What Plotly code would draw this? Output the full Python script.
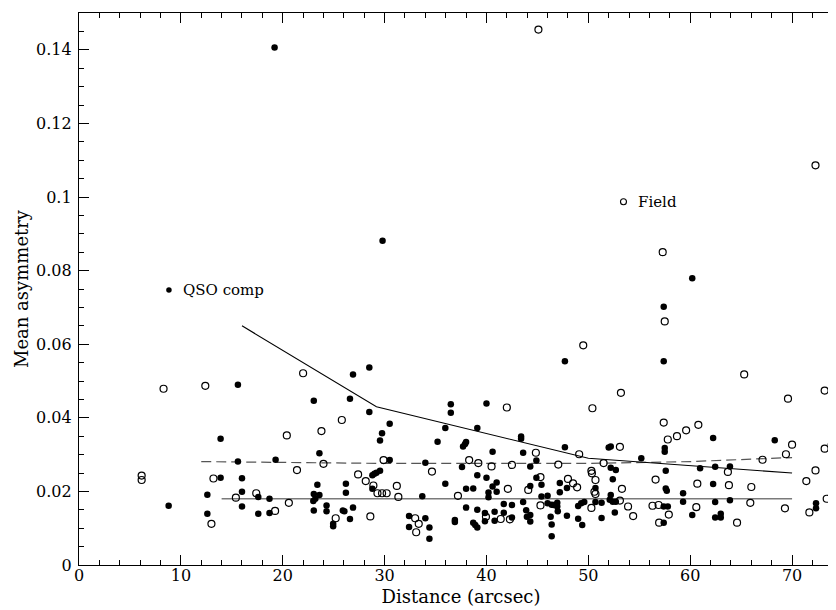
import plotly.graph_objects as go

# QSO companions (filled circles): distance (arcsec), mean asymmetry
qso_x = [19.2, 29.8, 60.2, 57.4, 47.7, 57.4, 26.9, 28.5, 15.6, 8.8,
         13.9, 15.6, 19.3, 13.9, 16.0, 12.6, 16.0, 17.6, 18.7, 12.6,
         16.0, 17.6, 18.7, 23.05, 26.6, 23.6, 23.4, 23.05, 23.6, 23.2,
         23.0, 26.2, 26.2, 23.05, 24.3, 24.3, 24.95, 24.95, 25.9, 26.05,
         26.6, 26.9, 28.5, 30.5, 29.75, 29.55, 36.5, 36.5, 40.0, 35.96,
         39.1, 35.2, 38.0, 37.9, 37.7, 40.6, 30.5, 34.0, 37.6, 28.8,
         29.2, 29.55, 29.0, 28.8, 33.7, 35.96, 38.0, 38.7, 39.1, 40.0,
         41.0, 40.6, 40.2, 41.0, 40.2, 32.4, 34.0, 32.4, 34.4, 34.4,
         36.9, 36.9, 38.0, 38.7, 38.9, 39.1, 39.1, 39.85, 39.85, 40.8,
         40.8, 41.7, 42.5, 41.7, 42.5, 43.4, 43.4, 43.6, 47.7, 52.0,
         52.2, 57.5, 57.5, 55.2, 44.9, 44.3, 57.6, 52.2, 52.7, 44.9,
         45.4, 44.3, 47.2, 47.9, 47.2, 50.7, 52.4, 52.2, 52.1, 52.4,
         52.7, 57.6, 57.7, 45.4, 46.0, 43.6, 46.0, 46.4, 46.95, 46.95,
         46.6, 49.0, 49.3, 49.6, 51.3, 50.7, 57.4, 57.8, 57.4, 43.9,
         43.97, 44.3, 44.3, 46.3, 46.4, 46.4, 47.0, 47.9, 49.0, 49.4,
         51.3, 52.6, 62.25, 68.3, 60.97, 62.45, 63.9, 62.25, 59.3, 59.3,
         62.45, 63.9, 60.2, 62.45, 63.0, 63.0, 73.8, 73.85, 73.85, 74.2,
         72.35, 72.35, 73.85, 74.2]
qso_y = [0.1406, 0.0881, 0.0779, 0.0702, 0.0554, 0.0554, 0.0518, 0.0537, 0.0490, 0.0161,
         0.0343, 0.0281, 0.0286, 0.0237, 0.0236, 0.0191, 0.0199, 0.0185, 0.0180, 0.0139,
         0.0159, 0.0139, 0.0141, 0.0446, 0.0452, 0.0304, 0.0218, 0.0193, 0.0190, 0.0180,
         0.0174, 0.0221, 0.0196, 0.0148, 0.0162, 0.0146, 0.0112, 0.0105, 0.0148, 0.0146,
         0.0125, 0.0156, 0.0416, 0.0384, 0.0358, 0.0338, 0.0437, 0.0414, 0.0439, 0.0372,
         0.0372, 0.0335, 0.0334, 0.0329, 0.0322, 0.0308, 0.0285, 0.0278, 0.0266, 0.0244,
         0.0251, 0.0256, 0.0248, 0.0207, 0.0187, 0.0221, 0.0207, 0.0208, 0.0244, 0.0237,
         0.0224, 0.0213, 0.0197, 0.0199, 0.0184, 0.0133, 0.0127, 0.0103, 0.0102, 0.0071,
         0.0122, 0.0117, 0.0156, 0.0115, 0.0109, 0.0102, 0.0150, 0.0141, 0.0119, 0.0145,
         0.0120, 0.0166, 0.0163, 0.0142, 0.0129, 0.0349, 0.0343, 0.0305, 0.0320, 0.0319,
         0.0322, 0.0318, 0.0308, 0.0290, 0.0284, 0.0268, 0.0256, 0.0264, 0.0258, 0.0237,
         0.0218, 0.0215, 0.0223, 0.0209, 0.0198, 0.0209, 0.0233, 0.0190, 0.0177, 0.0172,
         0.0172, 0.0208, 0.0202, 0.0186, 0.0188, 0.0171, 0.0168, 0.0164, 0.0169, 0.0159,
         0.0163, 0.0160, 0.0168, 0.0171, 0.0169, 0.0171, 0.0159, 0.0159, 0.0115, 0.0149,
         0.0131, 0.0136, 0.0118, 0.0131, 0.0110, 0.0078, 0.0146, 0.0134, 0.0126, 0.0109,
         0.0128, 0.0143, 0.0345, 0.0339, 0.0263, 0.0267, 0.0268, 0.0220, 0.0195, 0.0172,
         0.0171, 0.0176, 0.0136, 0.0129, 0.0129, 0.0139, 0.0327, 0.0231, 0.0207, 0.0188,
         0.0168, 0.0154, 0.0162, 0.0131]

# Field galaxies (open circles)
field_x = [45.1, 72.3, 57.3, 57.5, 49.5, 65.3, 22.0, 8.3, 12.4, 6.15,
           6.15, 20.4, 21.4, 13.2, 17.4, 15.4, 19.25, 20.6, 13.0, 25.8,
           23.8, 24.0, 27.4, 25.2, 42.0, 29.9, 38.3, 39.2, 40.5, 42.5,
           34.65, 28.15, 28.9, 29.3, 29.75, 30.2, 31.2, 31.35, 37.2, 42.1,
           28.6, 33.0, 33.35, 33.1, 39.95, 41.4, 42.3, 53.2, 50.4, 57.4,
           57.8, 58.7, 44.85, 49.1, 53.1, 51.5, 47.05, 50.3, 50.35, 45.3,
           44.1, 48.0, 48.5, 48.9, 50.7, 50.6, 50.7, 53.3, 53.1, 56.6,
           45.3, 50.3, 53.9, 54.4, 56.3, 56.9, 57.9, 56.95, 69.6, 73.2,
           59.6, 60.8, 70.0, 69.4, 67.1, 63.7, 60.7, 63.8, 66.0, 60.6,
           65.9, 69.3, 64.6, 72.3, 71.4, 73.2, 73.4, 71.7]
field_y = [0.1455, 0.1086, 0.0850, 0.0662, 0.0597, 0.0518, 0.0521, 0.0479, 0.0487, 0.0243,
           0.0231, 0.0352, 0.0258, 0.0235, 0.0195, 0.0183, 0.0147, 0.0169, 0.0112, 0.0394,
           0.0364, 0.0275, 0.0246, 0.0127, 0.0428, 0.0285, 0.0285, 0.0277, 0.0268, 0.0272,
           0.0254, 0.0228, 0.0216, 0.0195, 0.0195, 0.0195, 0.0215, 0.0185, 0.0188, 0.0207,
           0.0132, 0.0127, 0.0112, 0.0089, 0.0131, 0.0125, 0.0124, 0.0468, 0.0426, 0.0387,
           0.0341, 0.0350, 0.0305, 0.0301, 0.0321, 0.0277, 0.0273, 0.0256, 0.0249, 0.0239,
           0.0204, 0.0234, 0.0222, 0.0211, 0.0231, 0.0199, 0.0193, 0.0207, 0.0175, 0.0232,
           0.0162, 0.0155, 0.0159, 0.0133, 0.0161, 0.0163, 0.0137, 0.0115, 0.0452, 0.0474,
           0.0366, 0.0381, 0.0327, 0.0301, 0.0286, 0.0253, 0.0221, 0.0217, 0.0212, 0.0157,
           0.0169, 0.0154, 0.0115, 0.0257, 0.0228, 0.0316, 0.0180, 0.0143]

# Binned means
qso_mean_x = [16.0, 29.2, 50.0, 70.0]
qso_mean_y = [0.065, 0.043, 0.029, 0.025]
field_mean_x = [12.0, 30.0, 50.0, 60.0, 70.0]
field_mean_y = [0.0281, 0.0276, 0.0276, 0.0281, 0.0292]
base_x = [14.0, 70.0]
base_y = [0.018, 0.018]

# Key labels
key_labels = ["QSO comp", "Field"]
key_x = [8.83, 53.45]
key_y = [0.0747, 0.0987]

FONT = "DejaVu Serif"

fig = go.Figure()
fig.add_trace(go.Scatter(x=base_x, y=base_y, mode="lines",
                         line=dict(color="#7a7a7a", width=1.6), showlegend=False))
fig.add_trace(go.Scatter(x=field_mean_x, y=field_mean_y, mode="lines",
                         line=dict(color="#555555", width=1.2, dash="10px,5px"), showlegend=False))
fig.add_trace(go.Scatter(x=qso_mean_x, y=qso_mean_y, mode="lines",
                         line=dict(color="black", width=1.1), showlegend=False))
fig.add_trace(go.Scatter(x=field_x, y=field_y, mode="markers",
                         marker=dict(symbol="circle-open", size=7, color="black",
                                     line=dict(width=1.2, color="black")),
                         showlegend=False))
fig.add_trace(go.Scatter(x=qso_x, y=qso_y, mode="markers",
                         marker=dict(symbol="circle", size=6.5, color="black"),
                         showlegend=False))
# key markers
fig.add_trace(go.Scatter(x=[key_x[0]], y=[key_y[0]], mode="markers",
                         marker=dict(symbol="circle", size=5.5, color="black"), showlegend=False))
fig.add_trace(go.Scatter(x=[key_x[1]], y=[key_y[1]], mode="markers",
                         marker=dict(symbol="circle-open", size=6, color="black",
                                     line=dict(width=1.1, color="black")), showlegend=False))
for lbl, kx, ky in zip(key_labels, key_x, key_y):
    fig.add_annotation(x=kx + 1.2, y=ky, text=lbl, showarrow=False, xanchor="left",
                       yanchor="middle", font=dict(family=FONT, size=15, color="black"))

fig.update_layout(
    width=836, height=610,
    margin=dict(l=71, r=1, t=5, b=53),
    paper_bgcolor="white", plot_bgcolor="white",
    font=dict(family=FONT, size=16, color="black"),
    showlegend=False,
)
fig.update_xaxes(
    range=[0, 75], tick0=0, dtick=10, ticks="inside", ticklen=10, tickwidth=1.2,
    tickcolor="black", showline=True, linecolor="black", linewidth=1.3, mirror="ticks",
    showgrid=False, zeroline=False, automargin=False, ticklabelstandoff=-4,
    minor=dict(dtick=2, ticks="inside", ticklen=5, tickcolor="black", tickwidth=1),
    title=dict(text="Distance (arcsec)", font=dict(family=FONT, size=18), standoff=6),
    tickfont=dict(family=FONT, size=16),
)
fig.update_yaxes(
    range=[0, 0.15], tick0=0, dtick=0.02, ticks="inside", ticklen=10, tickwidth=1.2,
    tickcolor="black", showline=True, linecolor="black", linewidth=1.3, mirror="ticks",
    showgrid=False, zeroline=False, automargin=False, ticklabelstandoff=3,
    minor=dict(dtick=0.005, ticks="inside", ticklen=5, tickcolor="black", tickwidth=1),
    title=dict(text="Mean asymmetry", font=dict(family=FONT, size=18), standoff=2),
    tickfont=dict(family=FONT, size=16),
)

fig.write_html("out.html")
